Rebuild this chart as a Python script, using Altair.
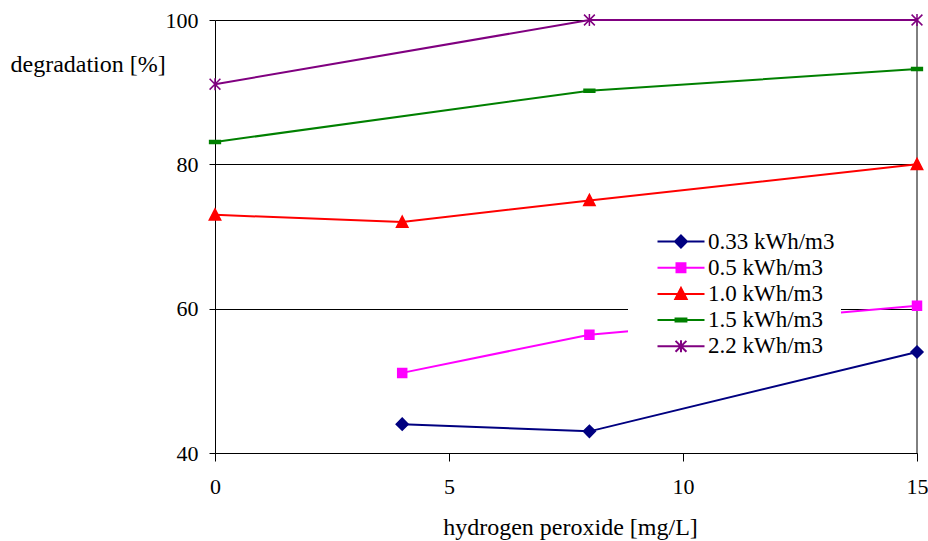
import altair as alt
import pandas as pd

# ---- data ----
series = ["0.33 kWh/m3", "0.5 kWh/m3", "1.0 kWh/m3", "1.5 kWh/m3", "2.2 kWh/m3"]
colors = ["#000080", "#FF00FF", "#FF0000", "#008000", "#800080"]

h2o2_033 = [4, 8, 15]
deg_033 = [44.0, 43.0, 54.0]
h2o2_05 = [4, 8, 15]
deg_05 = [51.1, 56.4, 60.4]
h2o2_10 = [0, 4, 8, 15]
deg_10 = [73.0, 72.0, 75.0, 80.0]
h2o2_15 = [0, 8, 15]
deg_15 = [83.1, 90.2, 93.2]
h2o2_22 = [0, 8, 15]
deg_22 = [91.1, 100.0, 100.0]

x_ticks = [0, 5, 10, 15]
y_ticks = [40, 60, 80, 100]
border_x = [15]

xs = [h2o2_033, h2o2_05, h2o2_10, h2o2_15, h2o2_22]
ys = [deg_033, deg_05, deg_10, deg_15, deg_22]
rows = []
for i, (s, xv, yv) in enumerate(zip(series, xs, ys)):
    for a, b in zip(xv, yv):
        rows.append({"series": s, "marker": i, "edge": i, "h2o2": a, "deg": b})
df = pd.DataFrame(rows)
border_df = pd.DataFrame({"x": border_x})

# ---- marker shapes (only M/L/Z commands) ----
plot_paths = [
    "M0,-1L1,0L0,1L-1,0Z",                                   # diamond
    "M-0.75,-0.75L0.75,-0.75L0.75,0.75L-0.75,0.75Z",         # square
    "M0,-1L0.95,0.85L-0.95,0.85Z",                           # triangle
    "M-0.9,-0.25L0.9,-0.25L0.9,0.25L-0.9,0.25Z",             # dash
    "M-0.9,-0.9L0.9,0.9M-0.9,0.9L0.9,-0.9M0,-1L0,1",         # asterisk
]
# legend symbols: 8px per unit; line from 1.5 to 7.375, marker centred at 4.435
leg_line = "M-1,0M1.5,0L7.375,0"
legend_paths = [
    leg_line + "M4.435,-0.75L5.185,0L4.435,0.75L3.685,0Z",
    leg_line + "M3.875,-0.56L4.995,-0.56L4.995,0.56L3.875,0.56Z",
    leg_line + "M4.435,-0.75L5.145,0.64L3.725,0.64Z",
    leg_line + "M3.755,-0.19L5.115,-0.19L5.115,0.19L3.755,0.19Z",
    leg_line + "M3.755,-0.68L5.115,0.68M3.755,0.68L5.115,-0.68M4.435,-0.75L4.435,0.75",
]


def pick(keys, vals):
    expr = repr(vals[-1])
    for k, v in zip(reversed(keys[:-1]), reversed(vals[:-1])):
        expr = f"datum.value === {k!r} ? {v!r} : ({expr})"
    return expr


FONT = "Liberation Serif, Times New Roman, DejaVu Serif, serif"

legend = alt.Legend(
    title=None,
    orient="none",
    legendX=413,
    legendY=204,
    padding=6,
    fillColor="white",
    symbolSize=256,
    symbolStrokeWidth=2,
    symbolType=alt.ExprRef(expr=pick(series, legend_paths)),
    symbolFillColor=alt.ExprRef(expr=pick(series, colors)),
    symbolStrokeColor=alt.ExprRef(expr=pick(series, colors)),
    symbolOpacity=1,
    labelOffset=51,
    rowPadding=2.2,
    labelFont=FONT,
    labelFontSize=23,
    labelColor="black",
    labelLimit=400,
)

x_axis = alt.Axis(
    values=x_ticks, grid=False, domainColor="black", tickColor="black",
    tickSize=8, labelPadding=15, labelFlush=False,
    labelFont=FONT, labelFontSize=22, labelColor="black",
    title="hydrogen peroxide [mg/L]", titleX=355, titleY=81,
    titleAlign="center", titleBaseline="alphabetic",
    titleFont=FONT, titleFontSize=24, titleFontWeight="normal", titleColor="black",
)
y_axis = alt.Axis(
    values=y_ticks, grid=True, gridColor="black", gridWidth=1, gridOpacity=1,
    domainColor="black", tickColor="black", tickSize=6, labelPadding=11,
    labelFont=FONT, labelFontSize=22, labelColor="black",
    title="degradation [%]", titleAngle=0, titleX=-205, titleY=51,
    titleAlign="left", titleBaseline="alphabetic",
    titleFont=FONT, titleFontSize=24, titleFontWeight="normal", titleColor="black",
)

xenc = alt.X("h2o2:Q", scale=alt.Scale(domain=[0, 15], nice=False), axis=x_axis)
yenc = alt.Y("deg:Q", scale=alt.Scale(domain=[40, 100], nice=False), axis=y_axis)
cenc = alt.Color("series:N", scale=alt.Scale(domain=series, range=colors), legend=legend)

border = alt.Chart(border_df).mark_rule(color="black", strokeWidth=1).encode(
    x=alt.X("x:Q")
)

lines = alt.Chart(df).mark_line(strokeWidth=2).encode(x=xenc, y=yenc, color=cenc)

points = alt.Chart(df).mark_point(filled=True, size=144, strokeWidth=1.5, opacity=1).encode(
    x=xenc,
    y=yenc,
    color=cenc,
    shape=alt.Shape("marker:O", scale=alt.Scale(range=plot_paths), legend=None),
    stroke=alt.Stroke("edge:O", scale=alt.Scale(range=colors), legend=None),
)

chart = (
    alt.layer(border, lines, points)
    .properties(
        width=702,
        height=433,
        padding={"left": 215, "top": 20, "right": 11, "bottom": 88},
        autosize="none",
        background="white",
    )
    .configure_view(stroke=None)
)

chart.save("out.html", embed_options={"renderer": "svg", "actions": False})
